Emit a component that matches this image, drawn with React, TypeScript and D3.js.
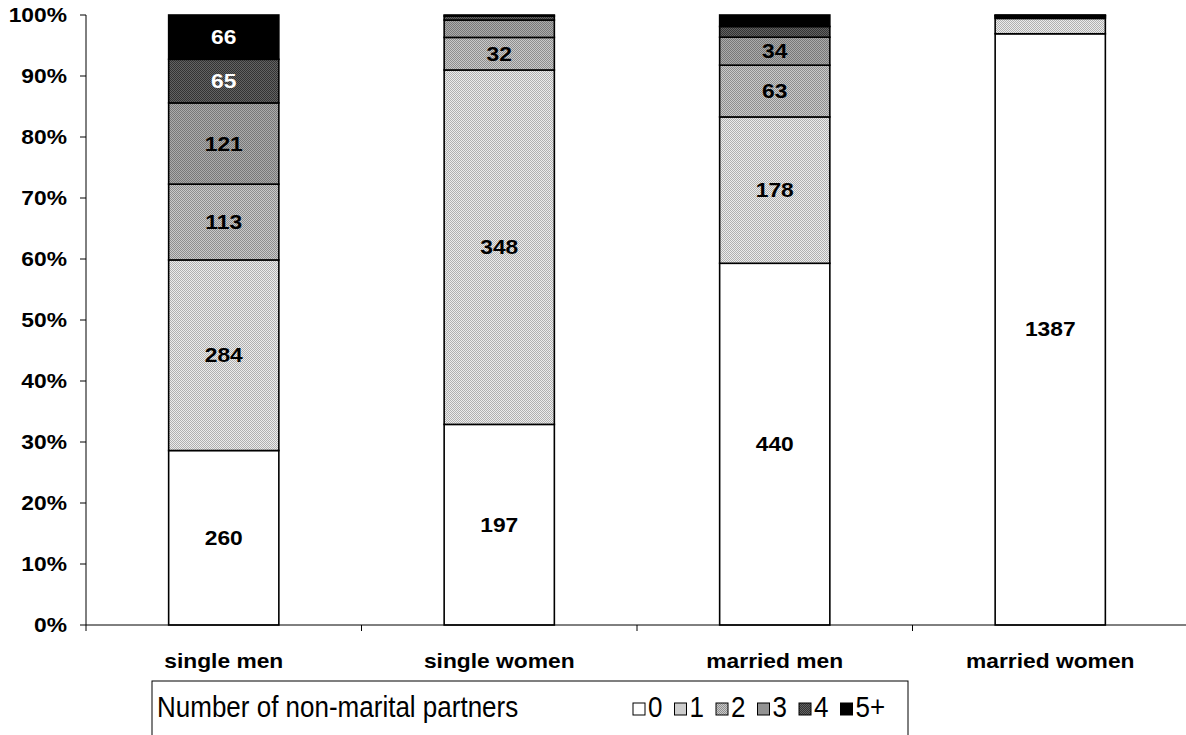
import React from "react";
import * as d3 from "d3";

const categories = ["single men", "single women", "married men", "married women"];
const partnerGroups = ["0", "1", "2", "3", "4", "5+"];
const zeroPartners = [260, 197, 440, 1387];
const onePartner = [284, 348, 178, 36];
const twoPartners = [113, 32, 63, 3];
const threePartners = [121, 17, 34, 3];
const fourPartners = [65, 4, 13, 1];
const fivePlusPartners = [66, 1, 14, 1];
const yTicks = [0, 0.1, 0.2, 0.3, 0.4, 0.5, 0.6, 0.7, 0.8, 0.9, 1];
const legendTitle = "Number of non-marital partners";

const seriesValues = [zeroPartners, onePartner, twoPartners, threePartners, fourPartners, fivePlusPartners];

const W = 1186;
const H = 735;
const FONT = "'Liberation Sans', Arial, sans-serif";

const patternIds = ["p0", "p1", "p2", "p3", "p4", "p5"];
const patternBg = ["#ffffff", "#ececec", "#cacaca", "#acacac", "#636363", "#000000"];
const patternDot = ["#ffffff", "#b0b0b0", "#8e8e8e", "#787878", "#333333", "#000000"];
const labelColor = ["#000", "#000", "#000", "#000", "#fff", "#fff"];

export default function App() {
  const rows = categories.map((c, i) => {
    const r: any = { category: c };
    partnerGroups.forEach((g, k) => (r[g] = seriesValues[k][i]));
    return r;
  });
  const stacked = d3.stack().keys(partnerGroups).offset(d3.stackOffsetExpand)(rows);

  const plotLeft = 86;
  const plotRight = 1188;
  const plotTop = 15;
  const plotBottom = 625;

  const x = d3.scaleBand().domain(categories).range([plotLeft, plotRight]).paddingInner(0).paddingOuter(0);
  const y = d3.scaleLinear().domain([0, 1]).range([plotBottom, plotTop]);
  const barW = x.bandwidth() * 0.4;
  const boundaries = [...categories.map((c) => x(c)!), plotRight];

  const fs = 20;
  const sx = 1.14;

  const legendX = 152;
  const legendY = 681;
  const legendItemStart = 633;
  const legendItemStep = 41.5;

  return (
    <svg width={W} height={H} style={{ display: "block", position: "absolute", left: 0, top: 0 }} fontFamily={FONT}>
      <defs>
        {patternIds.map((id, k) => (
          <pattern key={id} id={id} width={2} height={2} patternUnits="userSpaceOnUse">
            <rect width={2} height={2} fill={patternBg[k]} />
            <rect x={0} y={0} width={1} height={1} fill={patternDot[k]} />
            <rect x={1} y={1} width={1} height={1} fill={patternDot[k]} />
          </pattern>
        ))}
      </defs>
      <rect width={W} height={H} fill="#fff" />

      {/* y axis */}
      <line x1={plotLeft} x2={plotLeft} y1={plotTop} y2={plotBottom} stroke="#000" strokeWidth={1} />
      {yTicks.map((t) => (
        <g key={t}>
          <line x1={plotLeft - 6} x2={plotLeft} y1={y(t)} y2={y(t)} stroke="#000" />
          <text
            transform={`translate(${67},${y(t) + 7}) scale(${sx},1)`}
            textAnchor="end"
            fontSize={fs}
            fontWeight="bold"
          >
            {`${Math.round(t * 100)}%`}
          </text>
        </g>
      ))}

      {/* bars */}
      {stacked.map((s, k) => (
        <g key={s.key}>
          {s.map((d, i) => {
            const cx = x(categories[i])! + x.bandwidth() / 2;
            const y0 = y(d[0]);
            const y1 = y(d[1]);
            return (
              <rect
                key={i}
                x={cx - barW / 2}
                y={y1}
                width={barW}
                height={y0 - y1}
                fill={`url(#${patternIds[k]})`}
                stroke="#000"
                strokeWidth={1.6}
              />
            );
          })}
        </g>
      ))}
      {stacked.map((s, k) => (
        <g key={`l${s.key}`}>
          {s.map((d, i) => {
            if (d[1] - d[0] < 0.035) return null;
            const cx = x(categories[i])! + x.bandwidth() / 2;
            const cy = (y(d[0]) + y(d[1])) / 2;
            return (
              <text
                key={i}
                transform={`translate(${cx},${cy + 7}) scale(${sx},1)`}
                textAnchor="middle"
                fontSize={fs}
                fontWeight="bold"
                fill={labelColor[k]}
              >
                {seriesValues[k][i]}
              </text>
            );
          })}
        </g>
      ))}

      {/* x axis */}
      <line x1={plotLeft} x2={plotRight} y1={plotBottom} y2={plotBottom} stroke="#000" />
      {boundaries.map((b, i) => (
        <line key={i} x1={b} x2={b} y1={plotBottom} y2={plotBottom + 6} stroke="#000" />
      ))}
      {categories.map((c) => (
        <text
          key={c}
          transform={`translate(${x(c)! + x.bandwidth() / 2},${668}) scale(${sx},1)`}
          textAnchor="middle"
          fontSize={fs}
          fontWeight="bold"
        >
          {c}
        </text>
      ))}

      {/* legend */}
      <rect x={legendX} y={legendY} width={756} height={80} fill="none" stroke="#000" strokeWidth={1} />
      <text transform={`translate(157,717) scale(1,1.1)`} fontSize={26}>
        {legendTitle}
      </text>
      {partnerGroups.map((g, k) => (
        <g key={g} transform={`translate(${legendItemStart + k * legendItemStep},0)`}>
          <rect x={0} y={703} width={12} height={12} fill={`url(#${patternIds[k]})`} stroke="#000" strokeWidth={1} />
          <text transform={`translate(15,717) scale(1,1.1)`} fontSize={26}>
            {g}
          </text>
        </g>
      ))}
    </svg>
  );
}
